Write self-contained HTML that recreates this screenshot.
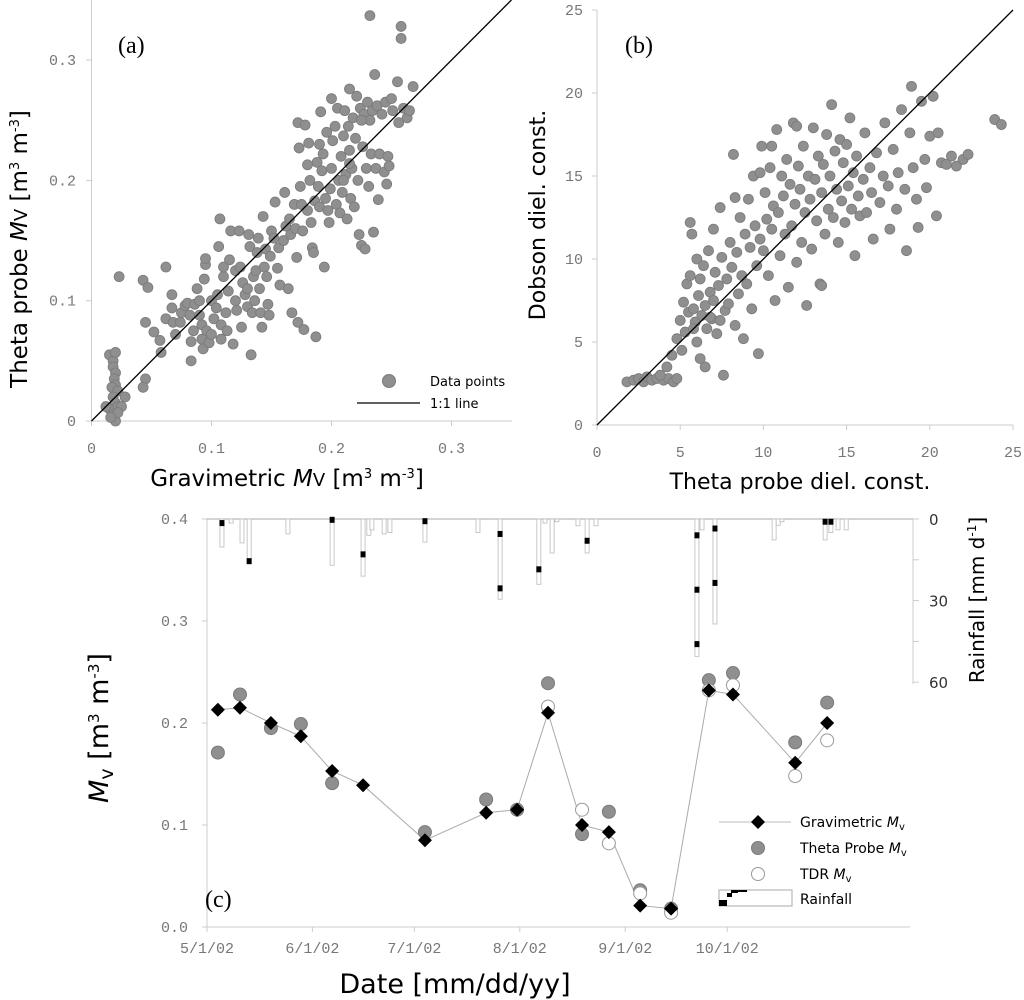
<!DOCTYPE html>
<html><head><meta charset="utf-8">
<style>
html,body{margin:0;padding:0;background:#fff;}
svg{display:block;}
.tk{font-family:"Liberation Mono",monospace;font-size:15px;fill:#777;}
.ti{font-family:"DejaVu Sans","Liberation Sans",sans-serif;fill:#000;}
.lg{font-family:"DejaVu Sans","Liberation Sans",sans-serif;font-size:13px;fill:#000;}
</style></head>
<body>
<svg id="chart" width="1024" height="1000" viewBox="0 0 1024 1000" xmlns="http://www.w3.org/2000/svg">
<g id="pa"></g>
<g id="pb"></g>
<g id="pc"></g>
</svg>
<script>
// Panel (a): gravimetric vs theta probe Mv
const aGrav=[0.015,0.018,0.02,0.018,0.02,0.019,0.02,0.017,0.022,0.018,0.02,0.015,0.022,0.018,0.02,0.012,0.025,0.028,0.022,0.016,0.023,0.043,0.047,0.045,0.043,0.045,0.052,0.057,0.058,0.062,0.062,0.067,0.067,0.068,0.07,0.074,0.075,0.078,0.08,0.082,0.083,0.083,0.085,0.086,0.088,0.09,0.09,0.092,0.092,0.093,0.094,0.095,0.095,0.096,0.098,0.1,0.1,0.102,0.104,0.105,0.106,0.107,0.108,0.108,0.11,0.11,0.112,0.113,0.114,0.115,0.116,0.118,0.12,0.12,0.121,0.123,0.124,0.125,0.126,0.128,0.13,0.13,0.131,0.132,0.133,0.134,0.135,0.136,0.137,0.138,0.139,0.14,0.141,0.142,0.143,0.144,0.145,0.146,0.147,0.148,0.149,0.15,0.152,0.153,0.155,0.156,0.157,0.16,0.161,0.162,0.164,0.165,0.166,0.167,0.169,0.17,0.171,0.172,0.172,0.173,0.174,0.175,0.176,0.177,0.178,0.18,0.18,0.181,0.182,0.183,0.184,0.185,0.186,0.187,0.188,0.189,0.19,0.19,0.191,0.192,0.193,0.194,0.195,0.196,0.197,0.198,0.199,0.2,0.2,0.201,0.203,0.204,0.205,0.206,0.207,0.208,0.209,0.21,0.211,0.212,0.213,0.214,0.215,0.215,0.216,0.217,0.218,0.219,0.22,0.221,0.222,0.223,0.224,0.225,0.226,0.227,0.228,0.229,0.23,0.231,0.232,0.233,0.234,0.235,0.236,0.237,0.238,0.239,0.24,0.242,0.244,0.245,0.246,0.247,0.248,0.25,0.251,0.255,0.256,0.258,0.258,0.26,0.263,0.265,0.268,0.232,0.21,0.215,0.225];
const aTheta=[0.055,0.05,0.057,0.045,0.04,0.035,0.03,0.028,0.025,0.02,0.015,0.01,0.012,0.005,0.0,0.012,0.012,0.02,0.007,0.003,0.12,0.117,0.111,0.035,0.028,0.082,0.074,0.067,0.057,0.085,0.128,0.105,0.094,0.082,0.072,0.082,0.09,0.096,0.098,0.088,0.066,0.05,0.075,0.097,0.11,0.088,0.1,0.08,0.068,0.06,0.118,0.13,0.135,0.075,0.065,0.1,0.072,0.085,0.094,0.105,0.145,0.168,0.08,0.068,0.12,0.128,0.09,0.075,0.108,0.134,0.158,0.064,0.1,0.125,0.092,0.158,0.128,0.078,0.115,0.105,0.095,0.11,0.155,0.145,0.055,0.09,0.12,0.1,0.125,0.14,0.152,0.11,0.09,0.078,0.17,0.128,0.143,0.12,0.097,0.088,0.137,0.158,0.152,0.182,0.127,0.144,0.113,0.15,0.19,0.162,0.11,0.168,0.155,0.09,0.18,0.16,0.136,0.248,0.082,0.227,0.195,0.18,0.158,0.076,0.246,0.175,0.213,0.231,0.2,0.165,0.144,0.14,0.183,0.07,0.215,0.195,0.23,0.178,0.257,0.208,0.222,0.128,0.185,0.24,0.175,0.165,0.193,0.268,0.21,0.233,0.245,0.18,0.26,0.2,0.173,0.22,0.19,0.237,0.258,0.205,0.168,0.245,0.225,0.276,0.185,0.21,0.252,0.178,0.235,0.27,0.2,0.155,0.26,0.146,0.228,0.255,0.143,0.21,0.265,0.195,0.25,0.222,0.258,0.157,0.288,0.21,0.262,0.184,0.222,0.255,0.207,0.265,0.197,0.22,0.212,0.268,0.258,0.282,0.248,0.328,0.318,0.26,0.252,0.258,0.278,0.337,0.2,0.214,0.25];
const aTicks=[0,0.1,0.2,0.3];
const aTickLabels=["0","0.1","0.2","0.3"];
// Panel (b): theta probe vs Dobson dielectric constants
const bTheta=[1.8,2.2,2.5,2.8,3,3.3,3.6,4,4.3,4.6,4.8,3.8,4.2,4.5,4.8,5,5.1,5.2,5.3,5.4,5.5,5.6,5.6,5.7,5.8,5.9,6,6,6.1,6.2,6.3,6.4,6.5,6.6,6.7,6.8,6.9,7,7,7.1,7.2,7.3,7.4,7.5,7.6,7.7,7.8,7.9,8,8.1,8.2,8.3,8.4,8.5,8.6,8.7,8.8,8.9,9,9.1,9.2,9.3,9.4,9.5,9.6,9.7,9.8,9.9,10,10.1,10.2,10.3,10.4,10.5,10.6,10.7,10.8,10.9,11,11.1,11.2,11.3,11.4,11.5,11.6,11.7,11.8,11.9,12,12.1,12.2,12.3,12.4,12.5,12.6,12.7,12.8,12.9,13,13.1,13.2,13.3,13.4,13.5,13.6,13.7,13.8,13.9,14,14.1,14.2,14.3,14.4,14.5,14.6,14.7,14.8,14.9,15,15.1,15.2,15.3,15.4,15.5,15.6,15.7,15.8,16,16.1,16.2,16.4,16.5,16.6,16.8,17,17.2,17.3,17.5,17.6,17.8,18,18.1,18.3,18.5,18.6,18.8,18.9,19,19.2,19.3,19.5,19.7,20,20.2,20.5,20.7,21,21.3,21.6,22,22.3,23.9,24.3,20.4,19.8,12,9.8,6.5,6.2,5.8,6.8,7.4,8.3,10.5,13.5];
const bDobson=[2.6,2.7,2.8,2.6,2.9,2.7,2.8,2.7,2.8,2.6,2.8,3.0,3.5,4.2,5.2,6.3,4.5,7.4,5.6,8.5,6.8,9.0,12.2,11.5,7.0,6.2,10.0,5.0,7.8,8.8,6.6,9.6,7.2,5.8,10.5,8.0,6.4,11.8,7.5,9.2,5.5,8.4,13.1,10.1,3.0,6.9,8.8,7.3,11.0,9.5,16.3,6.0,10.4,7.9,12.5,9.0,5.2,11.5,8.5,13.6,10.7,7.0,15.0,12.0,9.6,4.3,11.2,16.8,10.5,14.0,12.4,9.0,15.5,11.8,13.2,7.5,17.8,12.8,10.2,15.0,13.8,11.5,16.0,8.3,14.5,12.0,18.2,13.3,9.8,15.6,14.2,11.0,16.8,12.8,7.2,15.0,13.6,10.6,17.9,14.8,12.3,16.2,8.5,14.0,15.7,11.5,17.5,13.0,15.0,19.3,12.5,16.5,14.2,11.0,17.2,13.5,15.8,12.2,16.9,14.4,18.5,13.0,15.2,10.2,16.2,13.8,12.6,14.8,17.6,12.8,15.5,14.0,11.2,16.4,13.4,15.0,18.2,14.4,11.8,16.6,13.0,15.2,19.0,14.2,10.5,17.6,20.4,15.5,13.6,11.9,19.5,16.0,17.4,19.8,17.6,15.8,15.7,16.2,15.6,16.0,16.3,18.4,18.1,12.6,14.3,18.0,15.2,3.5,4.0,5.8,6.5,6.3,13.7,16.8,8.4];
const bTicks=[0,5,10,15,20,25];
const bTickLabels=["0","5","10","15","20","25"];
// Panel (c): time series (days since 5/1/02)
const cDays=[3.2,9.7,18.8,27.6,36.8,45.9,64.1,82.1,91.2,100.3,110.3,118.2,127.4,136.5,147.6,154.7,173,182.4];
const cGrav=[0.213,0.215,0.200,0.187,0.153,0.139,0.085,0.112,0.115,0.210,0.100,0.093,0.021,0.018,0.232,0.228,0.161,0.200];
const cTheta=[0.171,0.228,0.195,0.199,0.141,null,0.093,0.125,0.115,0.239,0.091,0.113,0.036,0.018,0.242,0.249,0.181,0.220];
const cTDR=[null,null,null,null,null,null,null,null,null,0.216,0.115,0.082,0.033,0.014,0.232,0.237,0.148,0.183];
const rainDays=[4.4,7.1,10.3,12.4,23.8,36.8,45.9,47.6,48.5,52.1,53.8,64.1,79.7,86.2,97.6,99.4,101.5,102.9,109.1,111.8,114.4,144.1,145.6,149.4,166.8,168,169.1,181.8,183.5,185.6,188];
const rainMM=[10.3,1.5,8.8,15.1,5.5,17,21,6,4,5.5,5,8.5,5,29.5,24,1.5,12.5,1,2.5,12.5,2.5,50.5,4,38.6,7.7,2.3,1,7.7,5,4,4];
const markDays=[4.4,12.4,36.8,45.9,64.1,86.2,86.2,97.6,111.8,144.1,144.1,144.1,149.4,149.4,181.8,183.5];
const markMM=[1.5,15.5,0.3,13,0.8,5.5,25.5,18.5,8,6,26,46,3.5,23.5,1,1];
const cYTicks=[0,0.1,0.2,0.3,0.4];
const cYTickLabels=["0.0","0.1","0.2","0.3","0.4"];
const cXTicks=[0,31,61,92,123,153];
const cXTickLabels=["5/1/02","6/1/02","7/1/02","8/1/02","9/1/02","10/1/02"];
const rainTicks=[0,15,30,45,60];
const rainTickLabels=["0","","30","","60"];

const NS="http://www.w3.org/2000/svg";
function mk(parent,tag,attrs,text){const e=document.createElementNS(NS,tag);for(const k in attrs)e.setAttribute(k,attrs[k]);if(text!==undefined)e.textContent=text;parent.appendChild(e);return e;}

// ---------- Panel A ----------
const pa=document.getElementById('pa');
const axA=v=>91.5+v*1200, ayA=v=>421-v*1203;
let e;
e=mk(pa,'line',{x1:91.5,y1:0,x2:91.5,y2:421,stroke:'#ccc','stroke-width':1});

e=mk(pa,'line',{x1:91.5,y1:421,x2:512,y2:421,stroke:'#ccc','stroke-width':1});

aTicks.forEach((t,i)=>{
  e=mk(pa,'line',{x1:axA(t),y1:421,x2:axA(t),y2:426,stroke:'#ccc'});
  
  e=mk(pa,'line',{x1:86,y1:ayA(t),x2:91.5,y2:ayA(t),stroke:'#ccc'});
  
  e=mk(pa,'text',{class:'tk',x:axA(t),y:453,'text-anchor':'middle'},aTickLabels[i]);
  
  e=mk(pa,'text',{class:'tk',x:76,y:ayA(t)+5,'text-anchor':'end'},aTickLabels[i]);
  
});
aGrav.forEach((g,i)=>{
  e=mk(pa,'circle',{cx:axA(g),cy:ayA(aTheta[i]),r:5,fill:'#8f8f8f',stroke:'#7a7a7a','stroke-width':0.8});
  
});
e=mk(pa,'line',{x1:axA(0),y1:ayA(0),x2:axA(0.35),y2:ayA(0.35),stroke:'#000','stroke-width':1.3});

e=mk(pa,'text',{x:118,y:53,'font-family':'Liberation Serif, serif','font-size':24},'(a)');

e=mk(pa,'circle',{cx:389,cy:381,r:6.5,fill:'#8f8f8f',stroke:'#7a7a7a'});

e=mk(pa,'text',{class:'lg',x:430,y:386},'Data points');

e=mk(pa,'line',{x1:357,y1:403,x2:420,y2:403,stroke:'#000','stroke-width':1.3});

e=mk(pa,'text',{class:'lg',x:430,y:408},'1:1 line');

e=mk(pa,'text',{class:'ti',x:0,y:0,'font-size':23,'text-anchor':'middle',transform:'translate(27,249) rotate(-90)'});
e.innerHTML='Theta probe <tspan font-style="italic">M</tspan><tspan font-size="18">V</tspan> [m<tspan font-size="13" dy="-8">3</tspan><tspan dy="8"> m</tspan><tspan font-size="13" dy="-8">-3</tspan><tspan dy="8">]</tspan>';

e=mk(pa,'text',{class:'ti',x:287,y:486,'font-size':23,'text-anchor':'middle'});
e.innerHTML='Gravimetric <tspan font-style="italic">M</tspan><tspan font-size="18">V</tspan> [m<tspan font-size="13" dy="-8">3</tspan><tspan dy="8"> m</tspan><tspan font-size="13" dy="-8">-3</tspan><tspan dy="8">]</tspan>';


// ---------- Panel B ----------
const pb=document.getElementById('pb');
const axB=v=>597+v*16.64, ayB=v=>425-v*16.6;
e=mk(pb,'line',{x1:597,y1:10,x2:597,y2:425,stroke:'#ccc'});

e=mk(pb,'line',{x1:597,y1:425,x2:1013,y2:425,stroke:'#ccc'});

bTicks.forEach((t,i)=>{
  e=mk(pb,'line',{x1:axB(t),y1:425,x2:axB(t),y2:430,stroke:'#ccc'});
  
  e=mk(pb,'line',{x1:592,y1:ayB(t),x2:597,y2:ayB(t),stroke:'#ccc'});
  
  e=mk(pb,'text',{class:'tk',x:axB(t),y:457,'text-anchor':'middle'},bTickLabels[i]);
  
  e=mk(pb,'text',{class:'tk',x:583,y:ayB(t)+5,'text-anchor':'end'},bTickLabels[i]);
  
});
bTheta.forEach((t,i)=>{
  e=mk(pb,'circle',{cx:axB(t),cy:ayB(bDobson[i]),r:5,fill:'#8f8f8f',stroke:'#7a7a7a','stroke-width':0.8});
  
});
e=mk(pb,'line',{x1:axB(0),y1:ayB(0),x2:axB(25),y2:ayB(25),stroke:'#000','stroke-width':1.3});

e=mk(pb,'text',{x:625,y:53,'font-family':'Liberation Serif, serif','font-size':24},'(b)');

e=mk(pb,'text',{class:'ti',x:0,y:0,'font-size':22,'text-anchor':'middle',transform:'translate(545,215) rotate(-90)'},'Dobson diel. const.');

e=mk(pb,'text',{class:'ti',x:800,y:489,'font-size':22,'text-anchor':'middle'},'Theta probe diel. const.');


// ---------- Panel C ----------
const pc=document.getElementById('pc');
const xC=d=>207+d*3.4, yC=v=>927-v*1020, yR=m=>519+m*2.72;
e=mk(pc,'line',{x1:207,y1:519,x2:207,y2:927,stroke:'#ccc'});

e=mk(pc,'line',{x1:207,y1:927,x2:910,y2:927,stroke:'#ccc'});

e=mk(pc,'line',{x1:207,y1:519,x2:913,y2:519,stroke:'#aaa'});

e=mk(pc,'line',{x1:913,y1:519,x2:913,y2:684,stroke:'#ccc'});

cYTicks.forEach((t,i)=>{
  e=mk(pc,'line',{x1:202,y1:yC(t),x2:207,y2:yC(t),stroke:'#ccc'});
  
  e=mk(pc,'text',{class:'tk',x:188,y:yC(t)+5,'text-anchor':'end'},cYTickLabels[i]);
  
});
cXTicks.forEach((t,i)=>{
  e=mk(pc,'line',{x1:xC(t),y1:927,x2:xC(t),y2:932,stroke:'#ccc'});
  
  e=mk(pc,'text',{class:'tk',x:xC(t),y:953,'text-anchor':'middle'},cXTickLabels[i]);
  
});
rainTicks.forEach((t,i)=>{
  e=mk(pc,'line',{x1:913,y1:yR(t),x2:919,y2:yR(t),stroke:'#ccc'});
  
  if(rainTickLabels[i]){
    e=mk(pc,'text',{x:929,y:yR(t)+6,'font-family':'DejaVu Sans, sans-serif','font-size':15,fill:'#333'},rainTickLabels[i]);
    
  }
});
rainDays.forEach((d,i)=>{
  e=mk(pc,'rect',{x:xC(d)-2,y:519,width:4,height:rainMM[i]*2.72,fill:'#fff',stroke:'#bbb','stroke-width':0.8});
  
});
markDays.forEach((d,i)=>{
  e=mk(pc,'rect',{x:xC(d)-2.5,y:yR(markMM[i])-3,width:5,height:6,fill:'#000'});
  
});
e=mk(pc,'polyline',{points:cDays.map((d,i)=>xC(d)+','+yC(cGrav[i])).join(' '),fill:'none',stroke:'#aaa','stroke-width':1});

cDays.forEach((d,i)=>{
  if(cTheta[i]!==null){
    e=mk(pc,'circle',{cx:xC(d),cy:yC(cTheta[i]),r:6.5,fill:'#8f8f8f',stroke:'#7a7a7a'});
    
  }
  if(cTDR[i]!==null){
    e=mk(pc,'circle',{cx:xC(d),cy:yC(cTDR[i]),r:6.5,fill:'#fff',stroke:'#999'});
    
  }
});
cDays.forEach((d,i)=>{
  const x=xC(d),y=yC(cGrav[i]);
  e=mk(pc,'polygon',{points:`${x},${y-7} ${x+7},${y} ${x},${y+7} ${x-7},${y}`,fill:'#000'});
  
});
e=mk(pc,'text',{x:205,y:907,'font-family':'Liberation Serif, serif','font-size':24},'(c)');

// legend
const lgC=mk(pc,'g',{});

e=mk(lgC,'line',{x1:719,y1:822,x2:791,y2:822,stroke:'#bbb'});

e=mk(lgC,'polygon',{points:'758,815 765,822 758,829 751,822',fill:'#000'});

e=mk(lgC,'circle',{cx:758,cy:848,r:6.5,fill:'#8f8f8f',stroke:'#7a7a7a'});

e=mk(lgC,'circle',{cx:758,cy:874,r:6.5,fill:'#fff',stroke:'#999'});

e=mk(lgC,'rect',{x:719,y:890,width:73,height:16,fill:'#fff',stroke:'#aaa'});

e=mk(lgC,'path',{d:'M719,900h8v6h-8z M727,897h5v-4h-5z M731,893h7v-3h-7z M738,890h9v2h-9z',fill:'#000'});

const lgTexts=[['Gravimetric ',827],['Theta Probe ',853],['TDR ',879]];
lgTexts.forEach(t=>{
  e=mk(lgC,'text',{x:800,y:t[1],'font-family':'DejaVu Sans, sans-serif','font-size':14});
  e.innerHTML=t[0]+'<tspan font-style="italic">M</tspan><tspan font-size="10" dy="3">v</tspan>';
  
});
e=mk(lgC,'text',{x:800,y:904,'font-family':'DejaVu Sans, sans-serif','font-size':14},'Rainfall');

// titles
e=mk(pc,'text',{class:'ti',x:0,y:0,'font-size':27,'text-anchor':'middle',transform:'translate(108,728) rotate(-90)'});
e.innerHTML='<tspan font-style="italic">M</tspan><tspan font-size="19" dy="5">v</tspan><tspan dy="-5"> [m</tspan><tspan font-size="15" dy="-9">3</tspan><tspan dy="9"> m</tspan><tspan font-size="15" dy="-9">-3</tspan><tspan dy="9">]</tspan>';

e=mk(pc,'text',{class:'ti',x:455,y:993,'font-size':27,'text-anchor':'middle'},'Date [mm/dd/yy]');

e=mk(pc,'text',{class:'ti',x:0,y:0,'font-size':20,'text-anchor':'middle',transform:'translate(984,600) rotate(-90)'});
e.innerHTML='Rainfall [mm d<tspan font-size="12" dy="-8">-1</tspan><tspan dy="8">]</tspan>';

</script>
</body></html>
